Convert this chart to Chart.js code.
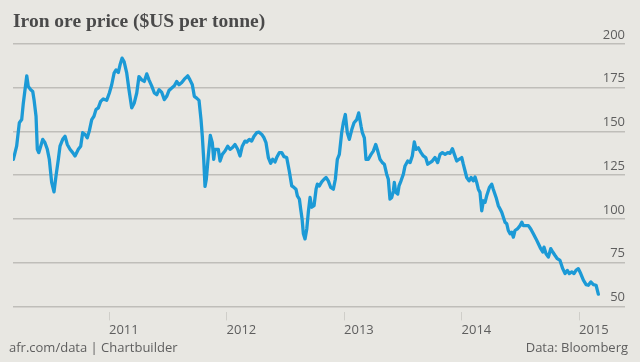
<!DOCTYPE html>
<html>
<head>
<meta charset="utf-8">
<script src="https://cdn.jsdelivr.net/npm/chart.js@4.4.1/dist/chart.umd.min.js"></script>
<style>
  html, body { margin: 0; padding: 0; background: #e8e7e2; }
  canvas { display: block; }
</style>
</head>
<body>
<canvas id="c" width="640" height="362"></canvas>
<script>
const titleText = "Iron ore price ($US per tonne)";
const sourceLeft = "afr.com/data | Chartbuilder";
const sourceRight = "Data: Bloomberg";

const yearTicks = [2011, 2012, 2013, 2014, 2015];
const priceTicks = [50, 75, 100, 125, 150, 175, 200];

const dates = [
  2010.186, 2010.214, 2010.237, 2010.257, 2010.271, 2010.300, 2010.313, 2010.334, 2010.351, 2010.362,
  2010.379, 2010.390, 2010.402, 2010.419, 2010.436, 2010.455, 2010.475, 2010.492, 2010.512, 2010.532,
  2010.549, 2010.569, 2010.583, 2010.606, 2010.626, 2010.645, 2010.668, 2010.691, 2010.711, 2010.739,
  2010.759, 2010.776, 2010.796, 2010.815, 2010.832, 2010.853, 2010.872, 2010.889, 2010.909, 2010.929,
  2010.951, 2010.980, 2011.003, 2011.023, 2011.043, 2011.060, 2011.079, 2011.094, 2011.111, 2011.128,
  2011.151, 2011.170, 2011.193, 2011.215, 2011.236, 2011.255, 2011.278, 2011.300, 2011.321, 2011.340,
  2011.363, 2011.386, 2011.406, 2011.426, 2011.449, 2011.471, 2011.491, 2011.511, 2011.534, 2011.556,
  2011.576, 2011.596, 2011.619, 2011.641, 2011.670, 2011.689, 2011.709, 2011.726, 2011.746, 2011.766,
  2011.783, 2011.794, 2011.806, 2011.817, 2011.828, 2011.845, 2011.862, 2011.879, 2011.891, 2011.902,
  2011.917, 2011.930, 2011.945, 2011.964, 2011.987, 2012.010, 2012.030, 2012.049, 2012.072, 2012.095,
  2012.115, 2012.134, 2012.157, 2012.172, 2012.194, 2012.214, 2012.234, 2012.257, 2012.277, 2012.300,
  2012.319, 2012.336, 2012.356, 2012.376, 2012.393, 2012.413, 2012.427, 2012.449, 2012.470, 2012.489,
  2012.512, 2012.534, 2012.555, 2012.574, 2012.591, 2012.603, 2012.620, 2012.631, 2012.643, 2012.654,
  2012.668, 2012.683, 2012.696, 2012.711, 2012.725, 2012.745, 2012.762, 2012.773, 2012.790, 2012.810,
  2012.830, 2012.847, 2012.866, 2012.887, 2012.909, 2012.926, 2012.943, 2012.960, 2012.980, 2012.994,
  2013.011, 2013.028, 2013.045, 2013.066, 2013.085, 2013.108, 2013.125, 2013.145, 2013.156, 2013.173,
  2013.187, 2013.207, 2013.230, 2013.249, 2013.270, 2013.287, 2013.306, 2013.326, 2013.343, 2013.363,
  2013.377, 2013.391, 2013.406, 2013.420, 2013.428, 2013.440, 2013.457, 2013.468, 2013.485, 2013.505,
  2013.519, 2013.542, 2013.562, 2013.581, 2013.598, 2013.613, 2013.632, 2013.655, 2013.675, 2013.695,
  2013.712, 2013.732, 2013.751, 2013.774, 2013.797, 2013.817, 2013.837, 2013.860, 2013.883, 2013.902,
  2013.922, 2013.939, 2013.959, 2013.979, 2014.002, 2014.015, 2014.030, 2014.044, 2014.064, 2014.081,
  2014.100, 2014.115, 2014.129, 2014.143, 2014.157, 2014.172, 2014.186, 2014.200, 2014.214, 2014.237,
  2014.257, 2014.270, 2014.294, 2014.313, 2014.328, 2014.342, 2014.356, 2014.370, 2014.385, 2014.398,
  2014.413, 2014.427, 2014.441, 2014.455, 2014.475, 2014.498, 2014.513, 2014.526, 2014.549, 2014.569,
  2014.589, 2014.611, 2014.634, 2014.654, 2014.674, 2014.691, 2014.702, 2014.719, 2014.739, 2014.759,
  2014.776, 2014.796, 2014.815, 2014.838, 2014.861, 2014.881, 2014.900, 2014.917, 2014.938, 2014.957,
  2014.974, 2014.994, 2015.014, 2015.037, 2015.060, 2015.079, 2015.100, 2015.122, 2015.145, 2015.164
];

const prices = [
  134.1, 141.6, 155.0, 156.8, 166.3, 181.8, 175.7, 173.9, 172.9, 168.2,
  158.7, 139.8, 137.9, 141.6, 145.5, 143.6, 139.8, 134.1, 120.9, 115.5,
  124.6, 134.1, 141.6, 145.5, 147.3, 142.6, 139.8, 137.9, 136.0, 139.8,
  141.6, 149.3, 148.3, 146.4, 150.2, 156.8, 158.7, 162.5, 163.5, 167.2,
  168.6, 167.8, 172.0, 176.7, 183.3, 185.2, 183.7, 188.1, 191.9, 190.0,
  183.3, 173.9, 163.5, 166.3, 172.0, 181.4, 179.5, 178.6, 182.9, 179.5,
  176.1, 172.0, 171.0, 173.9, 172.3, 168.2, 170.1, 173.5, 174.8, 176.1,
  178.6, 176.7, 178.0, 179.9, 181.8, 179.5, 176.7, 170.1, 169.1, 167.8,
  156.8, 147.3, 134.1, 118.6, 122.7, 136.0, 147.7, 143.6, 134.1, 139.8,
  139.8, 139.8, 133.1, 136.9, 138.8, 141.6, 139.8, 140.7, 142.6, 139.8,
  136.0, 141.6, 144.5, 144.0, 145.5, 144.5, 147.3, 149.3, 149.6, 148.3,
  146.4, 143.6, 135.1, 131.8, 134.1, 132.6, 135.1, 137.9, 137.9, 135.6,
  135.1, 127.4, 118.9, 118.0, 117.0, 113.2, 111.4, 105.7, 100.0, 91.5,
  88.6, 94.3, 103.8, 112.3, 106.7, 107.6, 117.0, 119.9, 118.9, 121.2,
  122.7, 123.7, 121.8, 118.0, 117.0, 122.7, 134.1, 136.9, 149.3, 155.0,
  159.7, 149.3, 145.5, 151.1, 155.0, 156.8, 160.6, 153.0, 149.3, 146.4,
  134.1, 134.1, 136.9, 138.8, 142.6, 138.8, 134.1, 132.2, 131.3, 125.6,
  122.7, 111.4, 112.3, 116.1, 120.9, 115.2, 114.2, 118.9, 121.8, 125.6,
  130.3, 133.1, 132.2, 136.0, 144.0, 139.8, 140.7, 137.9, 136.0, 135.1,
  131.3, 132.2, 133.1, 135.1, 132.2, 136.9, 137.9, 136.9, 137.9, 137.5,
  140.2, 136.9, 133.1, 134.1, 135.1, 131.3, 127.4, 123.7, 121.8, 123.7,
  121.8, 124.0, 120.9, 117.0, 115.2, 104.7, 110.4, 109.5, 113.2, 118.0,
  119.9, 117.0, 112.3, 107.6, 105.7, 103.8, 101.0, 98.1, 97.2, 93.4,
  91.5, 92.4, 89.6, 93.4, 94.3, 96.2, 98.1, 96.2, 96.2, 96.2,
  94.3, 91.5, 88.6, 85.8, 83.0, 81.1, 83.9, 80.1, 78.2, 83.0,
  81.1, 79.1, 77.3, 76.3, 71.6, 68.8, 70.6, 68.8, 69.7, 68.8,
  70.6, 71.6, 68.8, 65.0, 62.5, 62.1, 64.0, 62.5, 62.1, 57.0
];

const points = dates.map((d, i) => ({ x: d, y: prices[i] }));

const labelFont = { family: "'Open Sans', sans-serif", size: 13 };
const textGrey = '#5e5e5e';

const footerPlugin = {
  id: 'footerText',
  afterDraw(chart) {
    const ctx = chart.ctx;
    ctx.save();
    ctx.font = "13px 'Open Sans', sans-serif";
    ctx.fillStyle = textGrey;
    ctx.textBaseline = 'middle';
    ctx.textAlign = 'left';
    ctx.fillText(sourceLeft, 9, 348);
    ctx.textAlign = 'right';
    ctx.fillText(sourceRight, 628, 348);
    ctx.restore();
  }
};

new Chart(document.getElementById('c'), {
  type: 'line',
  data: {
    datasets: [{
      data: points,
      borderColor: '#1c9ad6',
      borderWidth: 3.3,
      pointRadius: 0,
      tension: 0,
      borderJoinStyle: 'round',
      borderCapStyle: 'round',
      fill: false
    }]
  },
  options: {
    responsive: false,
    animation: false,
    devicePixelRatio: 1,
    layout: { padding: { left: 13, right: 15, top: 0, bottom: 22 } },
    plugins: {
      legend: { display: false },
      tooltip: { enabled: false },
      title: {
        display: true,
        text: titleText,
        align: 'start',
        color: '#4a4a4a',
        font: { family: "'Liberation Serif', 'Times New Roman', serif", size: 19.5, weight: 'bold' },
        padding: { top: 10, bottom: 10.6 }
      }
    },
    scales: {
      x: {
        type: 'linear',
        min: 2010.183,
        max: 2015.391,
        afterBuildTicks: (scale) => { scale.ticks = yearTicks.map(v => ({ value: v })); },
        grid: {
          drawOnChartArea: false,
          drawTicks: true,
          tickLength: 8,
          color: '#cfcec9',
          lineWidth: 1
        },
        border: { display: false },
        ticks: {
          align: 'start',
          padding: 2,
          color: textGrey,
          font: labelFont,
          maxRotation: 0,
          autoSkip: false,
          callback: (v) => String(v)
        }
      },
      y: {
        type: 'linear',
        position: 'right',
        min: 46.59,
        max: 200,
        afterBuildTicks: (scale) => { scale.ticks = priceTicks.map(v => ({ value: v })); },
        grid: {
          drawTicks: false,
          color: '#bfbeb9',
          lineWidth: 1.5
        },
        border: { display: false },
        ticks: {
          mirror: true,
          padding: 0,
          labelOffset: -9,
          color: textGrey,
          font: labelFont,
          callback: (v) => String(v)
        }
      }
    }
  },
  plugins: [footerPlugin]
});
</script>
</body>
</html>
